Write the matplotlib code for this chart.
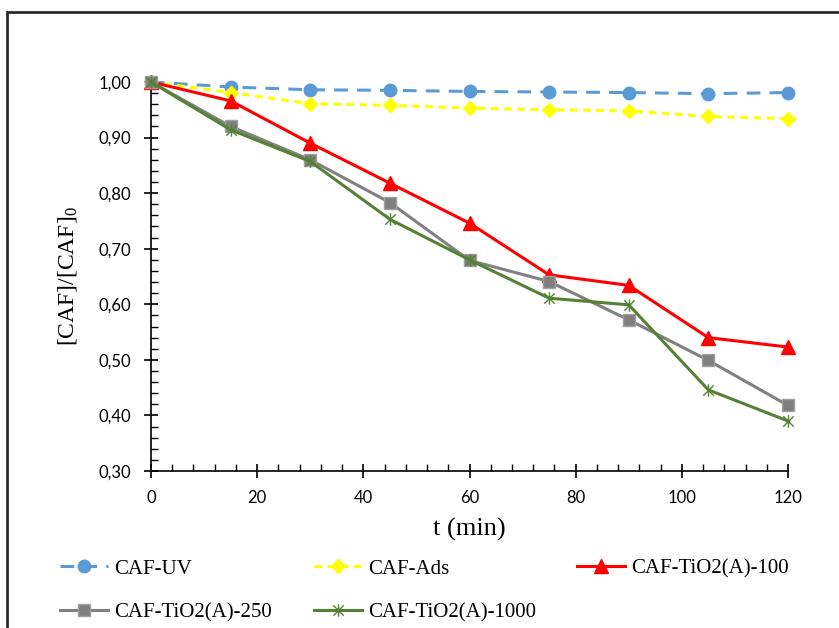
import matplotlib.pyplot as plt
import matplotlib.ticker as mticker
from matplotlib.patches import Rectangle
from matplotlib.path import Path

# tiempos de muestreo (min) y concentracion relativa [CAF]/[CAF]0
t = [0, 15, 30, 45, 60, 75, 90, 105, 120]
caf_uv = [1.000, 0.991, 0.986, 0.985, 0.983, 0.982, 0.981, 0.979, 0.981]
caf_ads = [1.000, 0.981, 0.961, 0.958, 0.953, 0.950, 0.948, 0.938, 0.934]
tio2_100 = [1.000, 0.966, 0.890, 0.818, 0.746, 0.653, 0.634, 0.540, 0.523]
tio2_250 = [1.000, 0.920, 0.860, 0.783, 0.679, 0.641, 0.572, 0.499, 0.418]
tio2_1000 = [1.000, 0.914, 0.857, 0.753, 0.680, 0.611, 0.599, 0.446, 0.390]

nombres = ["CAF-UV", "CAF-Ads", "CAF-TiO2(A)-100", "CAF-TiO2(A)-250", "CAF-TiO2(A)-1000"]

# marcador tipo asterisco (x + linea vertical)
asterisco = Path([(-1, -1), (1, 1), (-1, 1), (1, -1), (0, -1.2), (0, 1.2)],
                 [Path.MOVETO, Path.LINETO, Path.MOVETO, Path.LINETO, Path.MOVETO, Path.LINETO])

serif = "Liberation Serif"
plt.rcParams["mathtext.fontset"] = "custom"
plt.rcParams["mathtext.rm"] = serif
plt.rcParams["mathtext.default"] = "rm"

fig = plt.figure(figsize=(8.39, 6.28), dpi=100)
ax = fig.add_axes([151 / 839, 1 - 471 / 628, (788 - 151) / 839, (471 - 82) / 628])

l1, = ax.plot(t, caf_uv, color="#5B9BD5", lw=2.2, ls=(0, (4.5, 3)), marker="o", ms=9,
              clip_on=False, zorder=3)
l2, = ax.plot(t, caf_ads, color="#FFFF00", lw=2.2, ls=(0, (2.5, 1.8)), marker="D", ms=7.5,
              clip_on=False, zorder=4)
l3, = ax.plot(t, tio2_100, color="#FF0000", lw=2.2, marker="^", ms=10,
              clip_on=False, zorder=5)
l4, = ax.plot(t, tio2_250, color="#808080", lw=2.2, marker="s", ms=9, mfc="#7F7F7F",
              mec="#A0A0A0", mew=1, clip_on=False, zorder=6)
l5, = ax.plot(t, tio2_1000, color="#548235", lw=2.2, marker=asterisco, ms=9, mew=1,
              clip_on=False, zorder=7)

ax.set_xlim(0, 120)
ax.set_ylim(0.30, 1.00)
ax.xaxis.set_major_locator(mticker.MultipleLocator(20))
ax.xaxis.set_minor_locator(mticker.MultipleLocator(4))
ax.yaxis.set_major_locator(mticker.MultipleLocator(0.1))
ax.yaxis.set_minor_locator(mticker.MultipleLocator(0.02))
ax.yaxis.set_major_formatter(mticker.FuncFormatter(lambda v, p: f"{v:.2f}".replace(".", ",")))

for lado in ["top", "right"]:
    ax.spines[lado].set_visible(False)
for lado in ["left", "bottom"]:
    ax.spines[lado].set_linewidth(1.2)

ax.tick_params(which="major", direction="inout", length=10, width=1.2,
               labelsize=12, pad=9)
ax.tick_params(which="minor", direction="in", length=5, width=1)
for lab in ax.get_xticklabels() + ax.get_yticklabels():
    lab.set_fontfamily("Lato")

ax.set_xlabel("t (min)", fontsize=19, family=serif, labelpad=8)
ax.set_ylabel(r"[CAF]/[CAF]$_0$", fontsize=17, family=serif, labelpad=14)

# leyenda en dos filas (orden por columnas)
handles = [l1, l4, l2, l5, l3]
labels = [nombres[0], nombres[3], nombres[1], nombres[4], nombres[2]]
fig.legend(handles, labels, ncol=3, loc="upper left",
           bbox_to_anchor=(60 / 839, 1 - 559 / 628), frameon=False,
           prop={"family": serif, "size": 15}, handlelength=2.3, handletextpad=0.3,
           columnspacing=2.0, labelspacing=1.15, borderpad=0, borderaxespad=0)

# marco exterior del grafico
fig.patches.append(Rectangle((7 / 839, -0.1), 1.2, 1 - 12 / 628 + 0.1,
                             transform=fig.transFigure, fill=False,
                             edgecolor="#2b2b2b", lw=2))

plt.savefig("out.png", dpi=100)
